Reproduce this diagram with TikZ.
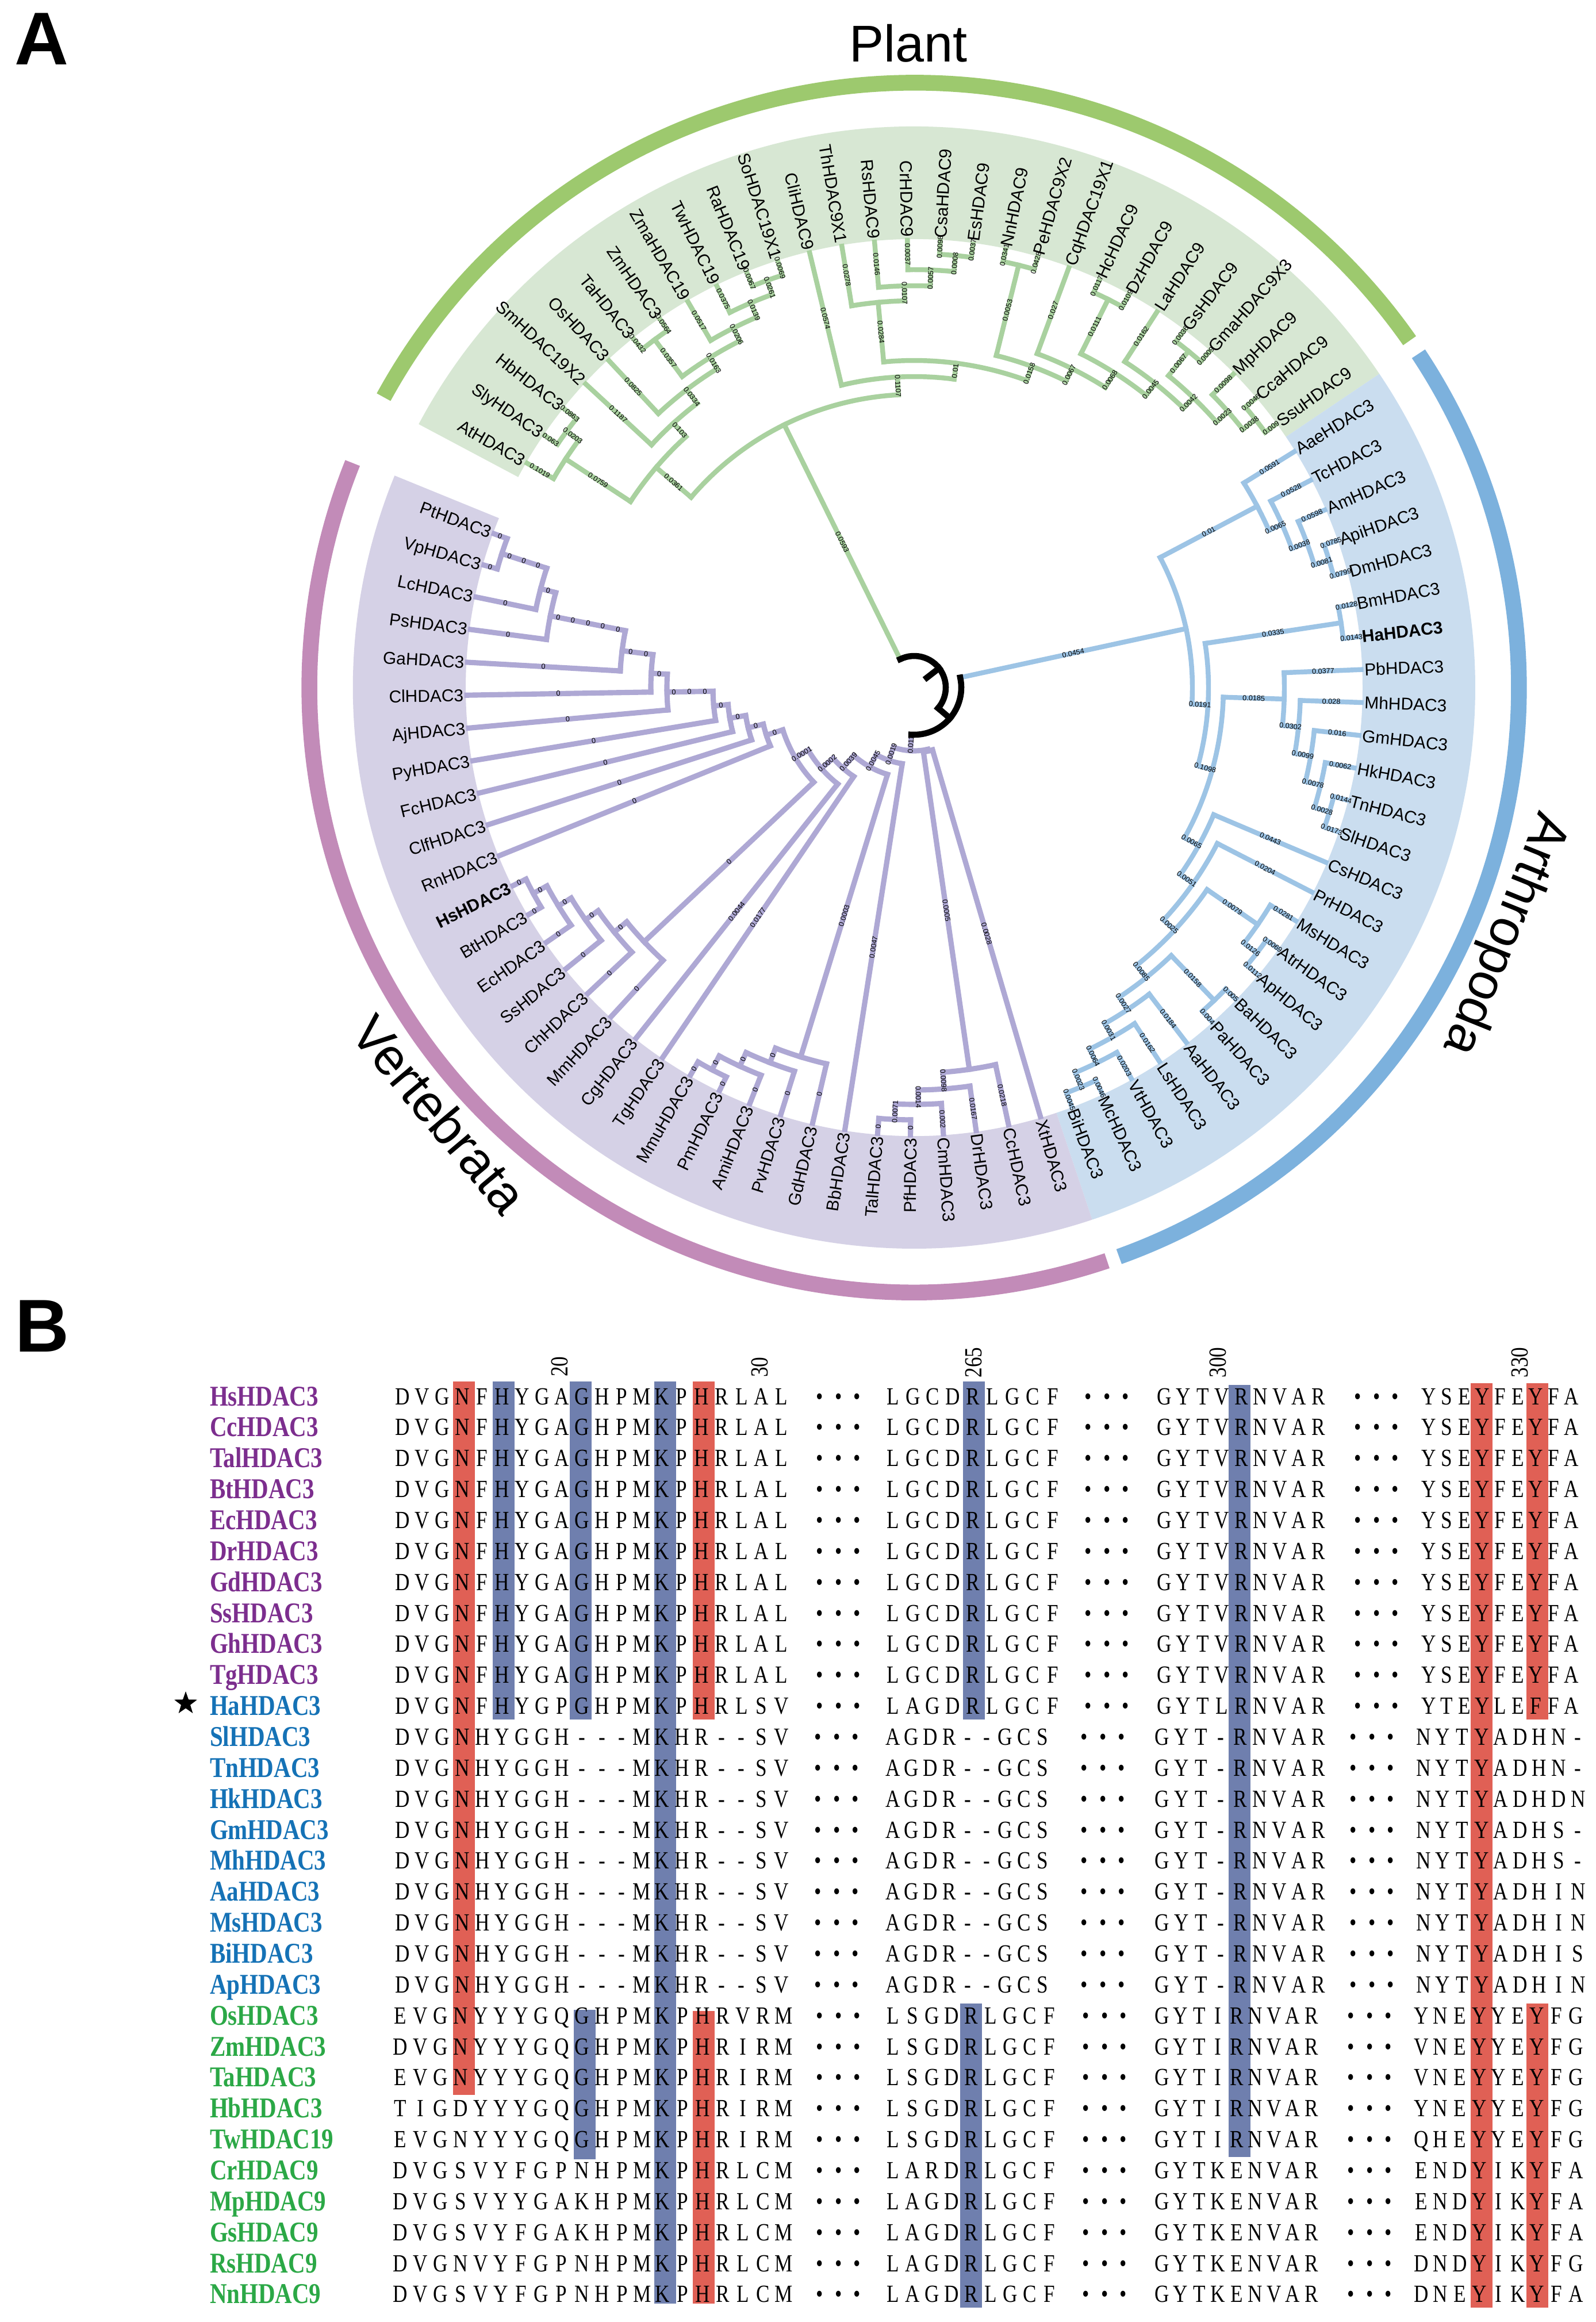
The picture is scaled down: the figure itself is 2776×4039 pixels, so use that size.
\documentclass[tikz,border=0pt]{standalone}
\usepackage{fontspec}
\setmainfont{Liberation Sans}
\newfontfamily\alnfont[FakeStretch=0.82]{Liberation Serif}
\usetikzlibrary{shapes.geometric}

\definecolor{plantband}{HTML}{9DC96E}
\definecolor{plantwedge}{HTML}{D7E7D3}
\definecolor{plantline}{HTML}{A9D19F}
\definecolor{arthband}{HTML}{7CB1DD}
\definecolor{arthwedge}{HTML}{CADDEF}
\definecolor{arthline}{HTML}{9DC4E5}
\definecolor{vertband}{HTML}{C28BB8}
\definecolor{vertwedge}{HTML}{D5D1E6}
\definecolor{vertline}{HTML}{AEA8D4}
\definecolor{alnred}{HTML}{E06055}
\definecolor{alnblue}{HTML}{6F7FAE}
\definecolor{namepurple}{HTML}{7C2E8E}
\definecolor{nameblue}{HTML}{1572B6}
\definecolor{namegreen}{HTML}{2BA846}

\tikzset{
  treeline/.style={line width=2.4pt,line cap=rect},
  greenbranch/.style={treeline,draw=plantline},
  bluebranch/.style={treeline,draw=arthline},
  purplebranch/.style={treeline,line width=2.6pt,draw=vertline},
  rootbranch/.style={treeline,line width=3pt,draw=black},
  outerband/.style={line width=7.8pt},
  taxon/.style={font=\fontsize{8.5}{9}\selectfont,inner sep=0pt,outer sep=0pt,text height=6.1pt,text depth=0pt},
  lenlabel/.style={font=\fontsize{3.6}{4}\selectfont,inner sep=0pt,outer sep=0pt},
  bigname/.style={font=\fontsize{25.6}{28}\selectfont,inner sep=0pt,outer sep=0pt},
  panel/.style={font=\bfseries\fontsize{37}{40}\selectfont,inner sep=0pt,outer sep=0pt},
  seqtext/.style={font=\alnfont\fontsize{12.2}{13}\selectfont,inner sep=0pt,outer sep=0pt,anchor=base west},
  alnname/.style={font=\alnfont\bfseries\fontsize{14.2}{15}\selectfont,inner sep=0pt,outer sep=0pt,anchor=base west},
  ruler/.style={font=\alnfont\fontsize{12.2}{13}\selectfont,inner sep=0pt,outer sep=0pt,rotate=90}
}

\newcommand{\ringwedge}[3]{\fill[#3] (#1:780) arc[start angle=#1,end angle=#2,radius=780] -- (#2:976) arc[start angle=#2,end angle=#1,radius=976] -- cycle;}
\newcommand{\treejoint}[5][]{%
  \pgfmathsetmacro\angA{\csname ang@#4\endcsname}%
  \pgfmathsetmacro\angB{\csname ang@#5\endcsname}%
  \pgfmathsetmacro\angM{(\angA+\angB)/2}%
  \expandafter\xdef\csname ang@#2\endcsname{\angM}%
  \expandafter\xdef\csname rad@#2\endcsname{#3}%
  \coordinate (#2) at (\angM:#3);
  \draw[#1] (\angA:#3) arc[start angle=\angA,end angle=\angB,radius=#3];
}
\newcommand{\branchto}[4][]{%
  \pgfmathsetmacro\angS{\csname ang@#2\endcsname}%
  \draw[#1] (\angS:#3) -- (#2);
  \if\relax\detokenize{#4}\relax\else
    \pgfmathsetmacro\radL{(#3+\csname rad@#2\endcsname)/2}%
    \pgfmathsetmacro\rotL{cos(\angS)<0?\angS+180:\angS}%
    \node[lenlabel,rotate=\rotL] (#2-len) at (\angS:\radL) {#4};
  \fi
}
\newcommand{\clade}[7][]{\treejoint[#1]{#2}{#3}{#4}{#5}\branchto[#1]{#4}{#3}{#6}\branchto[#1]{#5}{#3}{#7}}
\newcommand{\zeroruns}[2]{%
  \pgfmathsetmacro\angS{\csname ang@#1\endcsname}%
  \pgfmathsetmacro\rotL{cos(\angS)<0?\angS+180:\angS}%
  \foreach \radL in {#2} \node[lenlabel,rotate=\rotL] (#1-\radL) at (\angS:\radL) {0};
}

\newlength\seqpitch
\newlength\pxunit
\setlength\pxunit{0.01cm}
\def\seqletters#1{\ifx#1\relax\else\hbox to \seqpitch{\hss#1\hss}\expandafter\seqletters\fi}
\def\seqdots{•••}
\newcommand{\seqrun}[5]{%
  \setlength\seqpitch{#4\pxunit}%
  \node[seqtext] (#1) at ({#2-#4/2},#3) {\expandafter\seqletters#5\relax};
}
\newcommand{\alnrow}{%
  \pgfmathsetmacro\rowB{-2429-53.86*\n-14}%
  \pgfmathsetmacro\rowN{-2429-53.86*\n-16}%
  \node[alnname,text=\tcol] (name-\n) at (365,\rowN) {\tname};
  \seqrun{seqa-\n}{\startA}{\rowB}{\pitchA}{\resA}
  \seqrun{dota-\n}{\dotA}{\rowB}{32.5}{\seqdots}
  \seqrun{seqb-\n}{1553}{\rowB}{\pitchB}{\resB}
  \seqrun{dotb-\n}{\dotB}{\rowB}{32.5}{\seqdots}
  \seqrun{seqc-\n}{\startC}{\rowB}{\pitchC}{\resC}
  \seqrun{dotc-\n}{\dotC}{\rowB}{32.5}{\seqdots}
  \seqrun{seqd-\n}{\startD}{\rowB}{\pitchD}{\resD}
}
\newcommand{\alnband}[4]{\fill[#4] ({#1-19},-#2) rectangle ({#1+19},-#3);}

\begin{document}
\begin{tikzpicture}[x=0.01cm,y=0.01cm]
  \useasboundingbox (0,0) rectangle (2776,-4039);
  \fill[white] (0,0) rectangle (2776,-4039);
  \node[panel] (panelA) at (72,-68) {A};
  \node[panel] (panelB) at (73,-2307) {B};
  \node[bigname] (plant) at (1580,-75) {Plant};
  \node[bigname,rotate=-112] (arthropoda) at (2616,-1624) {Arthropoda};
  \node[bigname,rotate=-50] (vertebrata) at (765,-1938) {Vertebrata};

  \begin{scope}[shift={(1590,-1196)}]
    \ringwedge{152}{34}{plantwedge}
    \ringwedge{34}{-71.5}{arthwedge}
    \ringwedge{-71.5}{-202.2}{vertwedge}
    \draw[outerband,plantband] (151.3:1052) arc[start angle=151.3,end angle=35,radius=1052];
    \draw[outerband,arthband] (33.5:1052) arc[start angle=33.5,end angle=-70.2,radius=1052];
    \draw[outerband,vertband] (-71.4:1052) arc[start angle=-71.4,end angle=-201.8,radius=1052];

    \foreach \leaf [count=\n from 0] in {AtHDAC3,SlyHDAC3,HbHDAC3,SmHDAC19X2,OsHDAC3,TaHDAC3,ZmHDAC3,ZmaHDAC19,TwHDAC19,RaHDAC19,SoHDAC19X1,CliHDAC9,ThHDAC9X1,RsHDAC9,CrHDAC9,CsaHDAC9,EsHDAC9,NnHDAC9,PeHDAC9X2,CqHDAC19X1,HcHDAC9,DzHDAC9,LaHDAC9,GsHDAC9,GmaHDAC9X3,MpHDAC9,CcaHDAC9,SsuHDAC9,AaeHDAC3,TcHDAC3,AmHDAC3,ApiHDAC3,DmHDAC3,BmHDAC3,HaHDAC3,PbHDAC3,MhHDAC3,GmHDAC3,HkHDAC3,TnHDAC3,SlHDAC3,CsHDAC3,PrHDAC3,MsHDAC3,AtrHDAC3,ApHDAC3,BaHDAC3,PaHDAC3,AaHDAC3,LsHDAC3,VtHDAC3,McHDAC3,BiHDAC3,XtHDAC3,CcHDAC3,DrHDAC3,CmHDAC3,PfHDAC3,TalHDAC3,BbHDAC3,GdHDAC3,PvHDAC3,AmiHDAC3,PmHDAC3,MmuHDAC3,TgHDAC3,CgHDAC3,MmHDAC3,ChHDAC3,SsHDAC3,EcHDAC3,BtHDAC3,HsHDAC3,RnHDAC3,ClfHDAC3,FcHDAC3,PyHDAC3,AjHDAC3,ClHDAC3,GaHDAC3,PsHDAC3,LcHDAC3,VpHDAC3,PtHDAC3}{
      \pgfmathsetmacro\angT{149.9-4.217*\n}
      \pgfmathsetmacro\cosT{cos(\angT)}
      \pgfmathsetmacro\rotT{\cosT<0?\angT+180:\angT}
      \ifdim\cosT pt<0pt \def\sideT{east}\else\def\sideT{west}\fi
      \expandafter\xdef\csname ang@\leaf\endcsname{\angT}
      \expandafter\xdef\csname rad@\leaf\endcsname{780}
      \coordinate (\leaf) at (\angT:778);
      \node[taxon,anchor=\sideT,rotate=\rotT] (taxon-\leaf) at (\angT:784) {\ifnum\n=34 \bfseries\fi\ifnum\n=72 \bfseries\fi\leaf};
    }

    \clade[greenbranch]{plA}{751}{SlyHDAC3}{HbHDAC3}{0.063}{0.0863}
    \clade[greenbranch]{plB}{725}{AtHDAC3}{plA}{0.1019}{0.0203}
    \clade[greenbranch]{plC}{753}{RaHDAC19}{SoHDAC19X1}{0.0067}{0.0069}
    \clade[greenbranch]{plD}{727}{TwHDAC19}{plC}{0.0375}{0.0261}
    \clade[greenbranch]{plE}{700}{ZmaHDAC19}{plD}{0.0517}{0.0139}
    \clade[greenbranch]{plF}{755}{TaHDAC3}{ZmHDAC3}{0.0432}{0.0564}
    \clade[greenbranch]{plG}{675}{plF}{plE}{0.0357}{0.0206}
    \clade[greenbranch]{plH}{652}{OsHDAC3}{plG}{0.0825}{0.0163}
    \clade[greenbranch]{plI}{622}{SmHDAC19X2}{plH}{0.1187}{0.0334}
    \clade[greenbranch]{plJ}{590}{plB}{plI}{0.0759}{0.103}
    \clade[greenbranch]{plK}{755}{CsaHDAC9}{EsHDAC9}{0.0098}{0.0037}
    \clade[greenbranch]{plL}{727}{CrHDAC9}{plK}{0.0037}{0.0008}
    \clade[greenbranch]{plM}{699}{RsHDAC9}{plL}{0.0146}{0.0057}
    \clade[greenbranch]{plN}{673}{ThHDAC9X1}{plM}{0.0278}{0.0107}
    \clade[greenbranch]{plO}{757}{NnHDAC9}{PeHDAC9X2}{0.0341}{0.0428}
    \clade[greenbranch]{plP}{755}{HcHDAC9}{DzHDAC9}{0.0117}{0.0109}
    \clade[greenbranch]{plQ}{755}{GsHDAC9}{GmaHDAC9X3}{0.0036}{0.0009}
    \clade[greenbranch]{plR}{755}{CcaHDAC9}{SsuHDAC9}{0.0046}{0.009}
    \clade[greenbranch]{plS}{727}{MpHDAC9}{plR}{0.0098}{0.0038}
    \clade[greenbranch]{plT}{700}{plQ}{plS}{0.0067}{0.0023}
    \clade[greenbranch]{plU}{675}{LaHDAC9}{plT}{0.0162}{0.0042}
    \clade[greenbranch]{plV}{649}{plP}{plU}{0.0111}{0.0045}
    \clade[greenbranch]{plW}{619}{CqHDAC19X1}{plV}{0.027}{0.0068}
    \clade[greenbranch]{plX}{595}{plO}{plW}{0.0053}{0.0067}
    \clade[greenbranch]{plY}{569}{plN}{plX}{0.0284}{0.0158}
    \clade[greenbranch]{plZ}{541}{CliHDAC9}{plY}{0.0574}{0.01}
    \clade[greenbranch]{plRoot}{510}{plJ}{plZ}{0.0361}{0.1107}

    \clade[bluebranch]{arA}{755}{ApiHDAC3}{DmHDAC3}{0.0785}{0.0799}
    \clade[bluebranch]{arB}{728}{AmHDAC3}{arA}{0.0598}{0.0081}
    \clade[bluebranch]{arC}{700}{TcHDAC3}{arB}{0.0528}{0.0038}
    \clade[bluebranch]{arD}{675}{AaeHDAC3}{arC}{0.0591}{0.0065}
    \clade[bluebranch]{arE}{751}{BmHDAC3}{HaHDAC3}{0.0128}{0.0143}
    \clade[bluebranch]{arF}{754}{TnHDAC3}{SlHDAC3}{0.0144}{0.0173}
    \clade[bluebranch]{arG}{727}{HkHDAC3}{arF}{0.0062}{0.0028}
    \clade[bluebranch]{arH}{700}{GmHDAC3}{arG}{0.016}{0.0078}
    \clade[bluebranch]{arI}{672}{MhHDAC3}{arH}{0.028}{0.0099}
    \clade[bluebranch]{arJ}{644}{PbHDAC3}{arI}{0.0377}{0.0302}
    \clade[bluebranch]{arK}{754}{AtrHDAC3}{ApHDAC3}{0.0069}{0.0112}
    \clade[bluebranch]{arL}{726}{MsHDAC3}{arK}{0.0281}{0.0126}
    \clade[bluebranch]{arM}{754}{BaHDAC3}{PaHDAC3}{0.005}{0.004}
    \clade[bluebranch]{arN}{753}{McHDAC3}{BiHDAC3}{0.0046}{0.0045}
    \clade[bluebranch]{arO}{726}{VtHDAC3}{arN}{0.0203}{0.0023}
    \clade[bluebranch]{arP}{699}{LsHDAC3}{arO}{0.0162}{0.0064}
    \clade[bluebranch]{arQ}{672}{AaHDAC3}{arP}{0.0184}{0.0031}
    \clade[bluebranch]{arR}{646}{arM}{arQ}{0.0158}{0.0027}
    \clade[bluebranch]{arS}{619}{arL}{arR}{0.0079}{0.0085}
    \clade[bluebranch]{arT}{593}{PrHDAC3}{arS}{0.0204}{0.0025}
    \clade[bluebranch]{arU}{566}{CsHDAC3}{arT}{0.0443}{0.0051}
    \clade[bluebranch]{arV}{538}{arJ}{arU}{0.0185}{0.0065}
    \clade[bluebranch]{arW}{512}{arE}{arV}{0.0335}{0.1098}
    \clade[bluebranch]{arRoot}{484}{arD}{arW}{0.01}{0.0191}

    \clade[purplebranch]{vbA}{752}{PfHDAC3}{TalHDAC3}{0}{0}
    \clade[purplebranch]{vbB}{725}{CmHDAC3}{vbA}{0.002}{0.0071}
    \clade[purplebranch]{vbC}{700}{DrHDAC3}{vbB}{0.0167}{0.0014}
    \clade[purplebranch]{vbD}{671}{CcHDAC3}{vbC}{0.0218}{0.0098}
    \clade[purplebranch]{vbE}{113}{XtHDAC3}{vbD}{0.0028}{0.0005}
    \clade[purplebranch]{vbF}{752}{PmHDAC3}{MmuHDAC3}{0}{0}
    \clade[purplebranch]{vbG}{725}{AmiHDAC3}{vbF}{0}{0}
    \clade[purplebranch]{vbH}{699}{PvHDAC3}{vbG}{0}{0}
    \clade[purplebranch]{vbI}{672}{GdHDAC3}{vbH}{0}{0}
    \clade[purplebranch]{vbJ}{753}{BtHDAC3}{HsHDAC3}{0}{0}
    \clade[purplebranch]{vbK}{726}{EcHDAC3}{vbJ}{0}{0}
    \clade[purplebranch]{vbL}{700}{SsHDAC3}{vbK}{0}{0}
    \clade[purplebranch]{vbM}{673}{ChHDAC3}{vbL}{0}{0}
    \clade[purplebranch]{vbN}{645}{MmHDAC3}{vbM}{0}{0}
    \clade[purplebranch]{vbO}{754}{VpHDAC3}{PtHDAC3}{0}{0}
    \clade[purplebranch]{vbP}{672}{LcHDAC3}{vbO}{0}{}
    \zeroruns{vbO}{688,714,740}
    \clade[purplebranch]{vbQ}{645}{PsHDAC3}{vbP}{0}{0}
    \clade[purplebranch]{vbR}{512}{GaHDAC3}{vbQ}{0}{}
    \zeroruns{vbQ}{525,552,578,605,631}
    \clade[purplebranch]{vbS}{458}{ClHDAC3}{vbR}{0}{}
    \zeroruns{vbR}{470,497}
    \clade[purplebranch]{vbT}{430}{AjHDAC3}{vbS}{0}{0}
    \clade[purplebranch]{vbU}{350}{PyHDAC3}{vbT}{0}{}
    \zeroruns{vbT}{364,391,418}
    \clade[purplebranch]{vbV}{325}{FcHDAC3}{vbU}{0}{0}
    \clade[purplebranch]{vbW}{297}{ClfHDAC3}{vbV}{0}{0}
    \clade[purplebranch]{vbX}{270}{RnHDAC3}{vbW}{0}{0}
    \clade[purplebranch]{vbY}{240}{vbN}{vbX}{0}{0}
    \clade[purplebranch]{vbZ}{214}{CgHDAC3}{vbY}{0.0044}{0.0001}
    \clade[purplebranch]{vbAa}{187}{TgHDAC3}{vbZ}{0.0177}{0.0002}
    \clade[purplebranch]{vbAb}{158}{vbI}{vbAa}{0.0003}{0.0039}
    \clade[purplebranch]{vbAc}{134}{BbHDAC3}{vbAb}{0.0047}{0.0045}
    \clade[purplebranch]{vbRoot}{110}{vbE}{vbAc}{}{0.0019}

    \branchto[bluebranch]{arRoot}{82}{0.0454}
    \branchto[purplebranch]{vbRoot}{82}{0.0118}
    \branchto[greenbranch]{plRoot}{55}{0.0593}
    \treejoint[rootbranch]{rootB}{82}{arRoot}{vbRoot}
    \treejoint[rootbranch]{rootA}{55}{plRoot}{rootB}
    \branchto[rootbranch]{rootB}{55}{0}
    \branchto[rootbranch]{rootA}{28}{0}
  \end{scope}

  \alnband{807}{2403}{3644}{alnred}
  \alnband{876}{2403}{2991}{alnblue}
  \alnband{1010}{2403}{2991}{alnblue}
  \alnband{1017}{3496}{3756}{alnblue}
  \alnband{1157}{2403}{4007}{alnblue}
  \alnband{1224}{2403}{2991}{alnred}
  \alnband{1224}{3498}{4007}{alnred}
  \alnband{1694}{2403}{2991}{alnblue}
  \alnband{1689}{3485}{4014}{alnblue}
  \alnband{2156}{2409}{3752}{alnblue}
  \alnband{2577}{2406}{4014}{alnred}
  \alnband{2674}{2406}{2991}{alnred}
  \alnband{2674}{3485}{4014}{alnred}

  \node[ruler] (tick20) at (973,-2377) {20};
  \node[ruler] (tick30) at (1321,-2378) {30};
  \node[ruler] (tick265) at (1693,-2370) {265};
  \node[ruler] (tick300) at (2118,-2370) {300};
  \node[ruler] (tick330) at (2643,-2370) {330};
  \node[star,star points=5,star point ratio=2.5,fill=black,inner sep=0pt,minimum size=0.42cm] (hastar) at (323,-2963) {};

  \def\startA{700}\def\pitchA{34.7}\def\dotA{1426}\def\pitchB{34.75}\def\dotB{1893}\def\startC{2025}\def\pitchC{33.5}\def\dotC{2362}\def\startD{2485}\def\pitchD{31}
  \foreach \tname/\tcol/\resA/\resB/\resC/\resD [count=\n from 0] in {
    HsHDAC3/namepurple/DVGNFHYGAGHPMKPHRLAL/LGCDRLGCF/GYTVRNVAR/YSEYFEYFA,
    CcHDAC3/namepurple/DVGNFHYGAGHPMKPHRLAL/LGCDRLGCF/GYTVRNVAR/YSEYFEYFA,
    TalHDAC3/namepurple/DVGNFHYGAGHPMKPHRLAL/LGCDRLGCF/GYTVRNVAR/YSEYFEYFA,
    BtHDAC3/namepurple/DVGNFHYGAGHPMKPHRLAL/LGCDRLGCF/GYTVRNVAR/YSEYFEYFA,
    EcHDAC3/namepurple/DVGNFHYGAGHPMKPHRLAL/LGCDRLGCF/GYTVRNVAR/YSEYFEYFA,
    DrHDAC3/namepurple/DVGNFHYGAGHPMKPHRLAL/LGCDRLGCF/GYTVRNVAR/YSEYFEYFA,
    GdHDAC3/namepurple/DVGNFHYGAGHPMKPHRLAL/LGCDRLGCF/GYTVRNVAR/YSEYFEYFA,
    SsHDAC3/namepurple/DVGNFHYGAGHPMKPHRLAL/LGCDRLGCF/GYTVRNVAR/YSEYFEYFA,
    GhHDAC3/namepurple/DVGNFHYGAGHPMKPHRLAL/LGCDRLGCF/GYTVRNVAR/YSEYFEYFA,
    TgHDAC3/namepurple/DVGNFHYGAGHPMKPHRLAL/LGCDRLGCF/GYTVRNVAR/YSEYFEYFA,
    HaHDAC3/nameblue/DVGNFHYGPGHPMKPHRLSV/LAGDRLGCF/GYTLRNVAR/YTEYLEFFA}{\alnrow}

  \def\dotA{1423}\def\pitchB{32.6}\def\dotB{1886}\def\startC{2021}\def\pitchC{34}\def\dotC{2354}\def\startD{2476}\def\pitchD{33.6}
  \foreach \tname/\tcol/\resA/\resB/\resC/\resD [count=\n from 11] in {
    SlHDAC3/nameblue/DVGNHYGGH---MKHR--SV/AGDR--GCS/GYT-RNVAR/NYTYADHN-,
    TnHDAC3/nameblue/DVGNHYGGH---MKHR--SV/AGDR--GCS/GYT-RNVAR/NYTYADHN-,
    HkHDAC3/nameblue/DVGNHYGGH---MKHR--SV/AGDR--GCS/GYT-RNVAR/NYTYADHDN,
    GmHDAC3/nameblue/DVGNHYGGH---MKHR--SV/AGDR--GCS/GYT-RNVAR/NYTYADHS-,
    MhHDAC3/nameblue/DVGNHYGGH---MKHR--SV/AGDR--GCS/GYT-RNVAR/NYTYADHS-,
    AaHDAC3/nameblue/DVGNHYGGH---MKHR--SV/AGDR--GCS/GYT-RNVAR/NYTYADHIN,
    MsHDAC3/nameblue/DVGNHYGGH---MKHR--SV/AGDR--GCS/GYT-RNVAR/NYTYADHIN,
    BiHDAC3/nameblue/DVGNHYGGH---MKHR--SV/AGDR--GCS/GYT-RNVAR/NYTYADHIS,
    ApHDAC3/nameblue/DVGNHYGGH---MKHR--SV/AGDR--GCS/GYT-RNVAR/NYTYADHIN}{\alnrow}

  \def\startA{696}\def\pitchA{35.1}\def\dotA{1426}\def\pitchB{34}\def\dotB{1889}\def\pitchC{32.5}\def\dotC{2350}\def\startD{2472}
  \foreach \tname/\tcol/\resA/\resB/\resC/\resD [count=\n from 20] in {
    OsHDAC3/namegreen/EVGNYYYGQGHPMKPHRVRM/LSGDRLGCF/GYTIRNVAR/YNEYYEYFG,
    ZmHDAC3/namegreen/DVGNYYYGQGHPMKPHRIRM/LSGDRLGCF/GYTIRNVAR/VNEYYEYFG,
    TaHDAC3/namegreen/EVGNYYYGQGHPMKPHRIRM/LSGDRLGCF/GYTIRNVAR/VNEYYEYFG,
    HbHDAC3/namegreen/TIGDYYYGQGHPMKPHRIRM/LSGDRLGCF/GYTIRNVAR/YNEYYEYFG,
    TwHDAC19/namegreen/EVGNYYYGQGHPMKPHRIRM/LSGDRLGCF/GYTIRNVAR/QHEYYEYFG,
    CrHDAC9/namegreen/DVGSVYFGPNHPMKPHRLCM/LARDRLGCF/GYTKENVAR/ENDYIKYFA,
    MpHDAC9/namegreen/DVGSVYYGAKHPMKPHRLCM/LAGDRLGCF/GYTKENVAR/ENDYIKYFA,
    GsHDAC9/namegreen/DVGSVYFGAKHPMKPHRLCM/LAGDRLGCF/GYTKENVAR/ENDYIKYFA,
    RsHDAC9/namegreen/DVGNVYFGPNHPMKPHRLCM/LAGDRLGCF/GYTKENVAR/DNDYIKYFG,
    NnHDAC9/namegreen/DVGSVYFGPNHPMKPHRLCM/LAGDRLGCF/GYTKENVAR/DNEYIKYFA}{\alnrow}
\end{tikzpicture}
\end{document}
